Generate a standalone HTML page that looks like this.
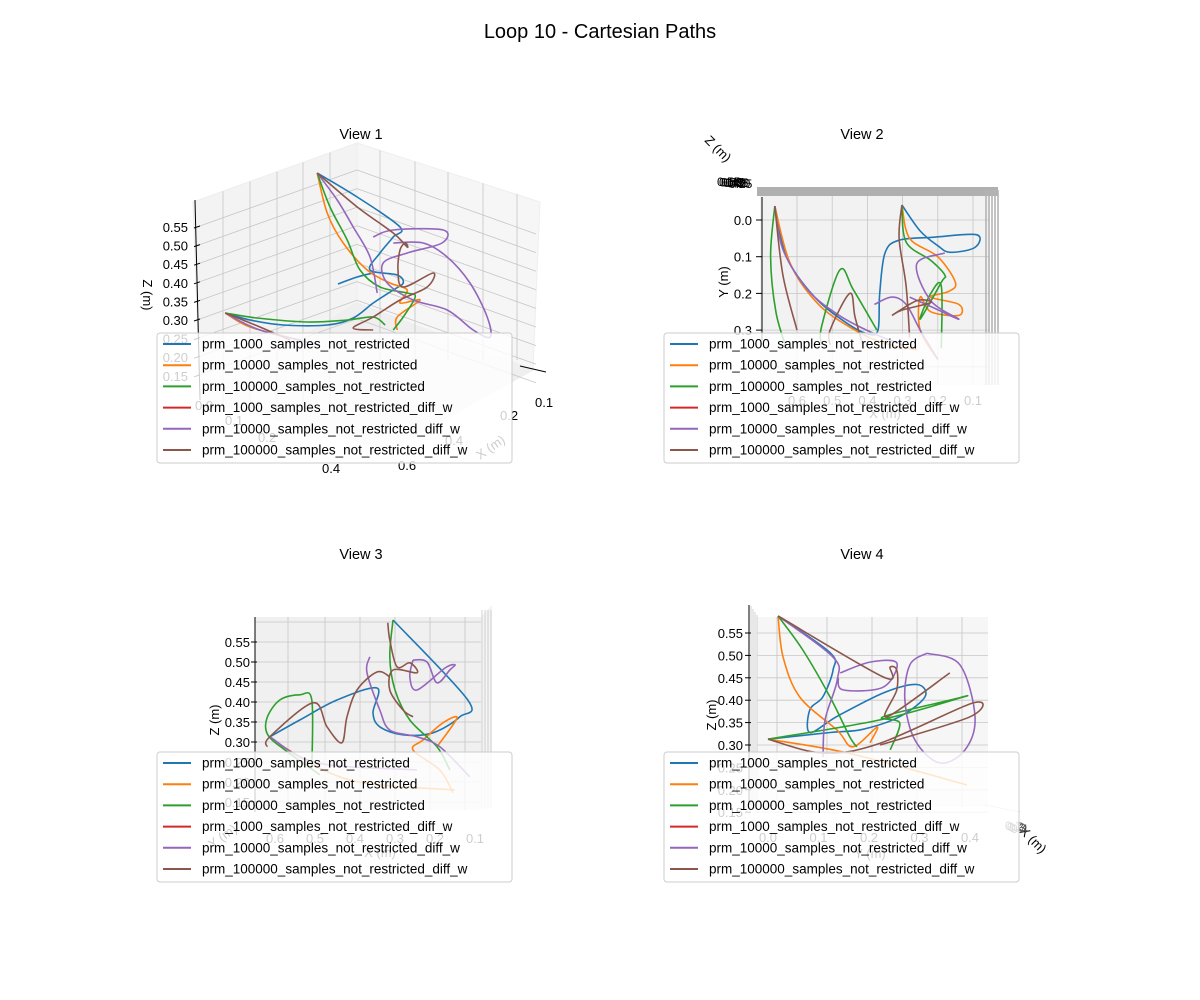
<!DOCTYPE html>
<html><head><meta charset="utf-8">
<style>
html,body{margin:0;padding:0;background:#fff;}
svg{display:block;font-family:"Liberation Sans","DejaVu Sans",sans-serif;}
</style></head>
<body>
<svg id="fig" width="1200" height="1000" viewBox="0 0 1200 1000" xmlns="http://www.w3.org/2000/svg">
<rect width="1200" height="1000" fill="#fff"/>
<text x="600" y="38" font-size="20" text-anchor="middle">Loop 10 - Cartesian Paths</text>
<g id="v1"></g>
<g id="v2"></g>
<g id="v3"></g>
<g id="v4"></g>
</svg>
<script>
// ---------- data ----------
const seriesNames = ["prm_1000_samples_not_restricted","prm_10000_samples_not_restricted","prm_100000_samples_not_restricted","prm_1000_samples_not_restricted_diff_w","prm_10000_samples_not_restricted_diff_w","prm_100000_samples_not_restricted_diff_w"];
const seriesColors = ["#1f77b4","#ff7f0e","#2ca02c","#d62728","#9467bd","#8c564b"];
const viewTitles = ["View 1","View 2","View 3","View 4"];
const zTicks = [0.30,0.35,0.40,0.45,0.50,0.55];
const yTicksV2 = [0.0,0.1,0.2,0.3];
const xTicksV2 = [0.6,0.5,0.4,0.3,0.2,0.1];
const xTicksV3 = [0.6,0.5,0.4,0.3,0.2,0.1];
const yTicksV4 = [0.0,0.1,0.2,0.3,0.4];

// View 1 (projected u, v)
const v1Blue = [[[.418,.908],[.518,.812],[.625,.692],[.608,.652],[.575,.588],[.55,.52],[.618,.50],[.633,.468],[.608,.44],[.558,.388],[.508,.328],[.443,.30],[.333,.30],[.25,.32],[.188,.348]],[[.47,.464],[.518,.492],[.558,.508]]];
const v1Orange = [[[.418,.908],[.443,.748],[.483,.628],[.543,.52],[.60,.468],[.643,.44],[.625,.388],[.675,.40],[.618,.332],[.618,.28]],[[.188,.348],[.25,.292],[.375,.24]]];
const v1Green = [[[.418,.908],[.45,.772],[.493,.64],[.525,.52],[.575,.452],[.643,.428],[.663,.412],[.633,.332],[.608,.28]],[[.188,.348],[.268,.328],[.393,.312],[.493,.32],[.558,.332],[.588,.30]]];
const v1Purple = [[[.418,.908],[.468,.80],[.508,.692],[.55,.572],[.568,.428]],[[.558,.652],[.608,.68],[.733,.68],[.73,.628],[.643,.588],[.583,.548],[.593,.468],[.658,.40],[.743,.36],[.808,.28],[.85,.252],[.843,.332],[.80,.468],[.743,.572],[.683,.628],[.608,.628]],[[.188,.348],[.275,.28],[.425,.22]]];
const v1Brown = [[[.418,.908],[.518,.772],[.608,.668],[.643,.612],[.638,.628],[.625,.60],[.62,.52],[.633,.452],[.708,.508],[.693,.452],[.625,.40],[.558,.332],[.508,.288],[.558,.28]],[[.188,.348],[.263,.30],[.35,.24]]];

// View 2 (X, Y)
const v2Blue = [[[.663,-.038],[.63,.10],[.55,.21],[.46,.28],[.40,.31],[.37,.30],[.365,.2],[.35,.09],[.31,.055],[.21,.047],[.09,.04],[.095,.075],[.165,.088],[.20,.07],[.25,.03],[.302,-.041]]];
const v2Orange = [[[.663,-.038],[.62,.117],[.543,.226],[.45,.292],[.356,.335],[.259,.354]],[[.302,-.041],[.28,.05],[.20,.10],[.15,.17],[.17,.195],[.22,.21],[.14,.23],[.14,.26],[.22,.25],[.25,.21],[.25,.30],[.2,.38]]];
const v2Green = [[[.663,-.038],[.675,.1],[.66,.25],[.63,.35]],[[.53,.34],[.53,.29],[.478,.136],[.44,.19],[.373,.30]],[[.302,-.041],[.29,.06],[.22,.11],[.18,.15],[.19,.17],[.25,.27],[.22,.20],[.19,.18],[.19,.35]]];
const v2Purple = [[[.663,-.038],[.64,.08],[.57,.19],[.48,.26],[.38,.31],[.30,.34]],[[.18,.09],[.26,.12],[.22,.22],[.14,.27],[.21,.24],[.28,.21]],[[.38,.23],[.33,.21],[.29,.23],[.25,.30],[.2,.38]]];
const v2Brown = [[[.663,-.038],[.64,.15],[.60,.30]],[[.506,.34],[.506,.30],[.45,.2],[.435,.265],[.41,.35]],[[.302,-.041],[.31,.05],[.29,.18],[.28,.32]],[[.33,.26],[.26,.22],[.22,.225],[.30,.245],[.33,.26]]];

// View 3 (X, Z)
const v3Blue = [[[.305,.605],[.118,.405],[.138,.363],[.205,.323],[.28,.318],[.338,.338],[.355,.373],[.345,.435],[.445,.405],[.538,.355],[.613,.313]]];
const v3Orange = [[[.195,.288],[.145,.36],[.18,.348],[.23,.305],[.255,.28],[.188,.23],[.155,.173]],[[.588,.293],[.413,.205],[.15,.18]]];
const v3Green = [[[.305,.605],[.313,.513],[.30,.43],[.263,.355],[.195,.288],[.163,.23]],[[.508,.23],[.508,.405],[.538,.418],[.588,.405],[.62,.36],[.618,.318],[.575,.28],[.488,.218]]];
const v3Purple = [[[.363,.513],[.37,.473],[.338,.38],[.313,.33],[.245,.313],[.188,.288],[.113,.213]],[[.255,.505],[.22,.50],[.195,.448],[.163,.48],[.15,.493],[.175,.485],[.245,.43],[.263,.463],[.255,.505]],[[.613,.313],[.495,.248],[.245,.23]]];
const v3Brown = [[[.318,.598],[.313,.555],[.295,.488],[.263,.498],[.245,.473],[.305,.48],[.313,.43],[.28,.38],[.255,.363]],[[.62,.288],[.613,.313],[.505,.398],[.47,.338],[.433,.298],[.42,.363],[.395,.43],[.345,.475],[.313,.463]]];

// View 4 (Y, Z)
const v4Blue = [[[.02,.588],[.123,.506],[.129,.468],[.109,.408],[.083,.379],[.083,.328],[.137,.364],[.23,.417],[.295,.435],[.311,.408],[.262,.364],[.188,.335],[.123,.328],[0,.313]]];
const v4Orange = [[[.02,.588],[.03,.496],[.063,.407],[.137,.333],[.168,.296],[.216,.34],[.202,.305]],[[0,.313],[.162,.281],[.394,.211]]];
const v4Green = [[[.02,.588],[.069,.512],[.123,.407],[.162,.318],[.176,.296]],[[0,.313],[.222,.356],[.386,.407],[.36,.40],[.228,.363],[.261,.349],[.242,.289]]];
const v4Purple = [[[.02,.588],[.129,.496],[.137,.445],[.113,.356],[.109,.273]],[[.315,.505],[.38,.479],[.41,.363],[.39,.289],[.34,.26],[.291,.311],[.271,.40],[.281,.479],[.315,.505]],[[.143,.461],[.202,.485],[.255,.483],[.228,.429],[.149,.423],[.139,.45]]];
const v4Brown = [[[.02,.588],[.228,.452],[.242,.474],[.255,.467],[.255,.423],[.236,.363],[.36,.461]],[[0,.313],[.109,.282],[.222,.304],[.406,.394],[.40,.363],[.222,.30]]];

// ---------- helpers ----------
const NS = "http://www.w3.org/2000/svg";
function mk(parent, tag, attrs){const e=document.createElementNS(NS,tag);for(const k in attrs)e.setAttribute(k,attrs[k]);parent.appendChild(e);return e;}
function smooth(pts){
  if(pts.length<2)return "";
  let d=`M${pts[0][0].toFixed(1)},${pts[0][1].toFixed(1)}`;
  for(let i=0;i<pts.length-1;i++){
    const p0=pts[Math.max(i-1,0)],p1=pts[i],p2=pts[i+1],p3=pts[Math.min(i+2,pts.length-1)];
    const c1=[p1[0]+(p2[0]-p0[0])/6,p1[1]+(p2[1]-p0[1])/6];
    const c2=[p2[0]-(p3[0]-p1[0])/6,p2[1]-(p3[1]-p1[1])/6];
    d+=` C${c1[0].toFixed(1)},${c1[1].toFixed(1)} ${c2[0].toFixed(1)},${c2[1].toFixed(1)} ${p2[0].toFixed(1)},${p2[1].toFixed(1)}`;
  }
  return d;
}
function drawSeries(g, segs, color, sx, sy, name){
  segs.forEach(seg=>{
    const p=mk(g,"path",{d:smooth(seg.map(q=>[sx(q[0]),sy(q[1])])),fill:"none",stroke:color,"stroke-width":"1.6","stroke-linejoin":"round"});
    
    
  });
}
function line(g,x1,y1,x2,y2,c,w){return mk(g,"line",{x1,y1,x2,y2,stroke:c,"stroke-width":w||0.8});}
function txt(g,x,y,s,opts){const t=mk(g,"text",Object.assign({x,y,"font-size":"13"},opts||{}));t.textContent=s;return t;}
function legend(g,x,y){
  const lg=mk(g,"g",{});
  
  
  mk(lg,"rect",{x,y,width:355,height:130,rx:3,fill:"rgba(255,255,255,0.8)",stroke:"#cccccc","stroke-width":"1"});
  seriesNames.forEach((n,i)=>{
    const e=mk(lg,"g",{});
    
    
    const yy=y+11+i*21.2;
    line(e,x+6,yy,x+34,yy,seriesColors[i],2);
    txt(e,x+45,yy+4.5,n,{"font-size":"13.5"});
  });
}
function title(g,x,y,s){const t=txt(g,x,y,s,{"font-size":"14.5","text-anchor":"middle"});}
const GRID="#c6c6c6";

// ---------- View 1 ----------
(function(){
  const g=document.getElementById("v1");
  title(g,361,139,viewTitles[0]);
  mk(g,"polygon",{points:"193,202 357,143 357,303 200,400",fill:"#f3f3f3",stroke:"#eeeeee"});
  mk(g,"polygon",{points:"357,143 540,202 533,370 357,303",fill:"#f6f6f6",stroke:"#eeeeee"});
  mk(g,"polygon",{points:"200,400 357,303 533,370 390,450",fill:"#efefef",stroke:"#eeeeee"});
  const zy=z=>320-(z-0.30)*372;
  zTicks.concat([0.25,0.20,0.15]).forEach(z=>{
    const y=zy(z);
    line(g,197,y,357,y-57,GRID);
    line(g,357,y-57,536,y+7,GRID);
  });
  [223,250,277,303,330].forEach((x,i)=>line(g,x,202-(x-193)*0.36,x,410,GRID));
  [380,415,448,483,517].forEach(x=>line(g,x,143+(x-357)*0.32,x,360,GRID));
  line(g,195,200,200,400,"#000",1);
  zTicks.concat([0.25,0.20,0.15]).forEach(z=>{const y=zy(z);line(g,194,y+1,200,y-1,"#000",1);txt(g,188,y+5,z.toFixed(2),{"text-anchor":"end"});});
  txt(g,143,295,"Z (m)",{"text-anchor":"middle",transform:"rotate(90 143 295)"});
  line(g,520,366,546,372,"#000",1);
  txt(g,535,407,"0.1");txt(g,500,420,"0.2");txt(g,322,473,"0.4");txt(g,398,470,"0.6");
  txt(g,195,410,"0.0");txt(g,225,425,"0.1");txt(g,258,442,"0.2");txt(g,445,445,"0.4");txt(g,480,460,"X (m)",{transform:"rotate(-35 480 460)"});
  const sx=u=>150+u*400, sy=v=>400-v*250;
  drawSeries(g,v1Blue,seriesColors[0],sx,sy,"view1-series-prm-1000");
  drawSeries(g,v1Orange,seriesColors[1],sx,sy,"view1-series-prm-10000");
  drawSeries(g,v1Green,seriesColors[2],sx,sy,"view1-series-prm-100000");
  drawSeries(g,v1Purple,seriesColors[4],sx,sy,"view1-series-prm-10000-diff-w");
  drawSeries(g,v1Brown,seriesColors[5],sx,sy,"view1-series-prm-100000-diff-w");
  legend(g,157,333);
})();

// ---------- View 2 ----------
(function(){
  const g=document.getElementById("v2");
  title(g,862,139,viewTitles[1]);
  const sx=x=>797+(0.6-x)*352, sy=y=>220+y*367;
  mk(g,"rect",{x:760,y:195,width:230,height:190,fill:"#f2f2f2"});
  xTicksV2.forEach(x=>line(g,sx(x),195,sx(x),385,GRID));
  [0,0.1,0.2,0.3,0.4].forEach(y=>line(g,760,sy(y),990,sy(y),GRID));
  mk(g,"rect",{x:757,y:187,width:241,height:9,fill:"#b0b0b0"});
  [986,989,992,995,998].forEach(x=>line(g,x,190,x,385,"#b4b4b4",1.6));
  line(g,762,197,762,340,"#000",1);
  yTicksV2.forEach(y=>{line(g,756,sy(y),762,sy(y),"#000",1);txt(g,752,sy(y)+5,y.toFixed(1),{"text-anchor":"end"});});
  txt(g,728,282,"Y (m)",{"text-anchor":"middle",transform:"rotate(-90 728 282)"});
  txt(g,715,152,"Z (m)",{"text-anchor":"middle",transform:"rotate(45 715 152)"});
  ["0.55","0.50","0.45","0.40","0.35","0.30","0.25"].forEach((s,i)=>txt(g,717+i*2,186+i*0.3,s,{"font-size":"12"}));
  xTicksV2.forEach(x=>txt(g,sx(x),405,x.toFixed(1),{"text-anchor":"middle"}));
  txt(g,885,418,"X (m)",{"text-anchor":"middle"});
  drawSeries(g,v2Blue,seriesColors[0],sx,sy,"view2-series-prm-1000");
  drawSeries(g,v2Orange,seriesColors[1],sx,sy,"view2-series-prm-10000");
  drawSeries(g,v2Green,seriesColors[2],sx,sy,"view2-series-prm-100000");
  drawSeries(g,v2Purple,seriesColors[4],sx,sy,"view2-series-prm-10000-diff-w");
  drawSeries(g,v2Brown,seriesColors[5],sx,sy,"view2-series-prm-100000-diff-w");
  legend(g,664,333);
})();

// ---------- View 3 ----------
(function(){
  const g=document.getElementById("v3");
  title(g,361,559,viewTitles[2]);
  const sx=x=>275+(0.6-x)*400, sy=z=>742-(z-0.30)*400;
  mk(g,"rect",{x:255,y:617,width:226,height:193,fill:"#f0f0f0"});
  mk(g,"polygon",{points:"481,617 492,605 492,808 481,810",fill:"#f4f4f4"});
  [288,325,360,395,430,465].forEach(x=>line(g,x,617,x,810,GRID));
  [0.15,0.20,0.25].concat(zTicks).concat([0.60]).forEach(z=>line(g,255,sy(z),481,sy(z),GRID));
  [482,485,488,491].forEach(x=>line(g,x,610,x,808,GRID));
  line(g,255,617,255,812,"#000",1);
  zTicks.concat([0.25,0.20,0.15]).forEach(z=>{line(g,251,sy(z),257,sy(z),"#000",1);txt(g,250,sy(z)+5,z.toFixed(2),{"text-anchor":"end"});});
  txt(g,219,720,"Z (m)",{"text-anchor":"middle",transform:"rotate(-90 219 720)"});
  xTicksV3.forEach(x=>txt(g,sx(x),843,x.toFixed(1),{"text-anchor":"middle"}));
  txt(g,380,857,"X (m)",{"text-anchor":"middle"});
  txt(g,225,840,"Y (m)",{"text-anchor":"middle",transform:"rotate(-35 225 840)"});
  drawSeries(g,v3Blue,seriesColors[0],sx,sy,"view3-series-prm-1000");
  drawSeries(g,v3Orange,seriesColors[1],sx,sy,"view3-series-prm-10000");
  drawSeries(g,v3Green,seriesColors[2],sx,sy,"view3-series-prm-100000");
  drawSeries(g,v3Purple,seriesColors[4],sx,sy,"view3-series-prm-10000-diff-w");
  drawSeries(g,v3Brown,seriesColors[5],sx,sy,"view3-series-prm-100000-diff-w");
  legend(g,157,752);
})();

// ---------- View 4 ----------
(function(){
  const g=document.getElementById("v4");
  title(g,862,559,viewTitles[3]);
  const sx=y=>768+y*505, sy=z=>745-(z-0.30)*448;
  mk(g,"rect",{x:757,y:617,width:231,height:190,fill:"#f6f6f6"});
  [777,827,872,917,962].forEach(x=>line(g,x,617,x,807,GRID));
  [0.15,0.20,0.25].concat(zTicks).forEach(z=>line(g,757,sy(z),988,sy(z),GRID));
  [751,753,755,757].forEach((x,i)=>line(g,x,606+i*3,x,805,GRID));
  line(g,749,605,749,805,"#000",1);
  zTicks.concat([0.25,0.20,0.15]).forEach(z=>{line(g,745,sy(z),751,sy(z),"#000",1);txt(g,743,sy(z)+5,z.toFixed(2),{"text-anchor":"end"});});
  txt(g,716,715,"Z (m)",{"text-anchor":"middle",transform:"rotate(-90 716 715)"});
  yTicksV4.forEach(y=>txt(g,sx(y),842,y.toFixed(1),{"text-anchor":"middle"}));
  txt(g,870,858,"Y (m)",{"text-anchor":"middle"});
  line(g,985,805,1020,812,GRID);
  txt(g,1030,843,"X (m)",{"text-anchor":"middle",transform:"rotate(45 1030 843)"});
  ["0.1","0.2","0.3","0.4"].forEach((s,i)=>txt(g,1005+i*2,830+i,s,{"font-size":"12",fill:"#555"}));
  drawSeries(g,v4Blue,seriesColors[0],sx,sy,"view4-series-prm-1000");
  drawSeries(g,v4Orange,seriesColors[1],sx,sy,"view4-series-prm-10000");
  drawSeries(g,v4Green,seriesColors[2],sx,sy,"view4-series-prm-100000");
  drawSeries(g,v4Purple,seriesColors[4],sx,sy,"view4-series-prm-10000-diff-w");
  drawSeries(g,v4Brown,seriesColors[5],sx,sy,"view4-series-prm-100000-diff-w");
  legend(g,664,752);
})();
</script>
</body></html>
